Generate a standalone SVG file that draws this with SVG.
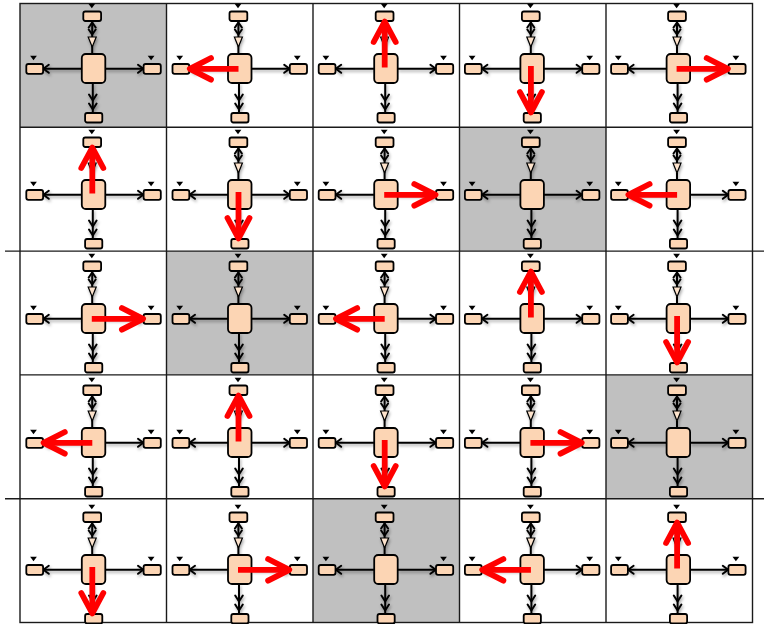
<svg xmlns="http://www.w3.org/2000/svg" xmlns:xlink="http://www.w3.org/1999/xlink" width="764" height="624" viewBox="0 0 764 624">
<style>
.bg{fill:#ffffff}
.gray{fill:#c0c0c0}
.grid{stroke:#1a1a1a;stroke-width:1.4;fill:none}
.box{fill:#fcd5b4;stroke:#000;stroke-width:1.8}
.mk{fill:#000}
.ln{stroke:#000;stroke-width:2;fill:none}
.hd{stroke:#000;stroke-width:2;fill:none;stroke-linejoin:miter;stroke-linecap:round}
.tri{fill:#fde3cc;stroke:#000;stroke-width:1.2}
.red{stroke:#ff0000;stroke-width:5.8;fill:none}
.redh{stroke:#ff0000;stroke-width:5.8;fill:none;stroke-linejoin:round;stroke-linecap:round}
</style>
<defs>
<filter id="sh" x="-10%" y="-10%" width="120%" height="120%">
<feDropShadow dx="1" dy="2" stdDeviation="1.4" flood-color="#000" flood-opacity="0.35"/>
</filter>
<g id="links">
<line class="ln" x1="0" y1="14.8" x2="-38.7" y2="14.8"/>
<path class="hd" d="M-33 10.8 L-38.4 14.8 L-33 18.8"/>
<line class="ln" x1="23.5" y1="14.8" x2="61.8" y2="14.8"/>
<path class="hd" d="M56.2 10.8 L61.5 14.8 L56.2 18.8"/>
<line class="ln" x1="11" y1="29" x2="11" y2="59"/>
<path class="hd" d="M7.2 40.5 L11 46.5 L14.8 40.5"/>
<path class="hd" d="M7.2 49.5 L11 55.5 L14.8 49.5"/>
<line class="ln" x1="10.4" y1="-33" x2="10.4" y2="0"/>
<path class="hd" d="M6.9 -26.5 L10.4 -31.5 L13.9 -26.5"/>
<path class="hd" d="M6.9 -24.5 L10.4 -19.5 L13.9 -24.5"/>
<polygon class="tri" points="6.4,-17 14.4,-17 10.4,-7"/>
</g>
<g id="unit">
<rect class="box" x="0" y="0" width="23.5" height="29" rx="4"/>
<rect class="box" x="1.5" y="-42.5" width="17.8" height="9.5" rx="2"/>
<rect class="box" x="3.3" y="59" width="17.2" height="9.5" rx="2"/>
<rect class="box" x="-55.5" y="10" width="16.8" height="9.8" rx="2"/>
<rect class="box" x="61.8" y="10" width="17.2" height="9.8" rx="2"/>
<polygon class="mk" points="6.6,-50.2 13.4,-50.2 10,-45.8"/>
<polygon class="mk" points="-51.7,1.8 -44.9,1.8 -48.3,6.2"/>
<polygon class="mk" points="65.9,1.8 72.7,1.8 69.3,6.2"/>
</g>
<g id="rL"><line class="red" x1="10.5" y1="14.8" x2="-36" y2="14.8"/><path class="redh" d="M-17 4 L-38.2 14.8 L-17 25.6"/></g>
<g id="rR"><line class="red" x1="10" y1="14.8" x2="59" y2="14.8"/><path class="redh" d="M40.1 4 L61.3 14.8 L40.1 25.6"/></g>
<g id="rU"><line class="red" x1="10.5" y1="13.5" x2="10.5" y2="-30.5"/><path class="redh" d="M-0.5 -12 L10.5 -32.5 L21.5 -12"/></g>
<g id="rD"><line class="red" x1="10.5" y1="12" x2="10.5" y2="56"/><path class="redh" d="M-0.5 38 L10.5 58.5 L21.5 38"/></g>
</defs>
<rect class="bg" x="0" y="0" width="764" height="624"/>
<g id="shaded-cells">
<rect class="gray" x="20" y="3.5" width="146.5" height="123.8"/>
<rect class="gray" x="459.5" y="127.3" width="146.5" height="123.8"/>
<rect class="gray" x="166.5" y="251.1" width="146.5" height="123.8"/>
<rect class="gray" x="606" y="374.9" width="146.5" height="123.8"/>
<rect class="gray" x="313" y="498.7" width="146.5" height="123.8"/>
</g>
<g id="grid">
<rect class="grid" x="20" y="3.5" width="732.5" height="619"/>
<line class="grid" x1="166.5" y1="3.5" x2="166.5" y2="622.5"/>
<line class="grid" x1="313" y1="3.5" x2="313" y2="622.5"/>
<line class="grid" x1="459.5" y1="3.5" x2="459.5" y2="622.5"/>
<line class="grid" x1="606" y1="3.5" x2="606" y2="622.5"/>
<line class="grid" x1="20" y1="127.3" x2="752.5" y2="127.3"/>
<line class="grid" x1="5" y1="251.1" x2="764" y2="251.1"/>
<line class="grid" x1="20" y1="374.9" x2="752.5" y2="374.9"/>
<line class="grid" x1="5" y1="498.7" x2="764" y2="498.7"/>
</g>
<g id="connectors" filter="url(#sh)">
<use href="#links" transform="translate(81.8,54)"/>
<use href="#links" transform="translate(228,54)"/>
<use href="#links" transform="translate(374.2,54)"/>
<use href="#links" transform="translate(520.4,54)"/>
<use href="#links" transform="translate(666.6,54)"/>
<use href="#links" transform="translate(81.8,180)"/>
<use href="#links" transform="translate(228,180)"/>
<use href="#links" transform="translate(374.2,180)"/>
<use href="#links" transform="translate(520.4,180)"/>
<use href="#links" transform="translate(666.6,180)"/>
<use href="#links" transform="translate(81.8,304)"/>
<use href="#links" transform="translate(228,304)"/>
<use href="#links" transform="translate(374.2,304)"/>
<use href="#links" transform="translate(520.4,304)"/>
<use href="#links" transform="translate(666.6,304)"/>
<use href="#links" transform="translate(81.8,428)"/>
<use href="#links" transform="translate(228,428)"/>
<use href="#links" transform="translate(374.2,428)"/>
<use href="#links" transform="translate(520.4,428)"/>
<use href="#links" transform="translate(666.6,428)"/>
<use href="#links" transform="translate(81.8,555)"/>
<use href="#links" transform="translate(228,555)"/>
<use href="#links" transform="translate(374.2,555)"/>
<use href="#links" transform="translate(520.4,555)"/>
<use href="#links" transform="translate(666.6,555)"/>
</g>
<g id="cell-0-0" transform="translate(81.8,54)"><use href="#unit"/></g>
<g id="cell-0-1" transform="translate(228,54)"><use href="#unit"/></g>
<g id="cell-0-2" transform="translate(374.2,54)"><use href="#unit"/></g>
<g id="cell-0-3" transform="translate(520.4,54)"><use href="#unit"/></g>
<g id="cell-0-4" transform="translate(666.6,54)"><use href="#unit"/></g>
<g id="cell-1-0" transform="translate(81.8,180)"><use href="#unit"/></g>
<g id="cell-1-1" transform="translate(228,180)"><use href="#unit"/></g>
<g id="cell-1-2" transform="translate(374.2,180)"><use href="#unit"/></g>
<g id="cell-1-3" transform="translate(520.4,180)"><use href="#unit"/></g>
<g id="cell-1-4" transform="translate(666.6,180)"><use href="#unit"/></g>
<g id="cell-2-0" transform="translate(81.8,304)"><use href="#unit"/></g>
<g id="cell-2-1" transform="translate(228,304)"><use href="#unit"/></g>
<g id="cell-2-2" transform="translate(374.2,304)"><use href="#unit"/></g>
<g id="cell-2-3" transform="translate(520.4,304)"><use href="#unit"/></g>
<g id="cell-2-4" transform="translate(666.6,304)"><use href="#unit"/></g>
<g id="cell-3-0" transform="translate(81.8,428)"><use href="#unit"/></g>
<g id="cell-3-1" transform="translate(228,428)"><use href="#unit"/></g>
<g id="cell-3-2" transform="translate(374.2,428)"><use href="#unit"/></g>
<g id="cell-3-3" transform="translate(520.4,428)"><use href="#unit"/></g>
<g id="cell-3-4" transform="translate(666.6,428)"><use href="#unit"/></g>
<g id="cell-4-0" transform="translate(81.8,555)"><use href="#unit"/></g>
<g id="cell-4-1" transform="translate(228,555)"><use href="#unit"/></g>
<g id="cell-4-2" transform="translate(374.2,555)"><use href="#unit"/></g>
<g id="cell-4-3" transform="translate(520.4,555)"><use href="#unit"/></g>
<g id="cell-4-4" transform="translate(666.6,555)"><use href="#unit"/></g>
<g id="highlighted-connectors">
<use href="#rL" transform="translate(228,54)"/>
<use href="#rU" transform="translate(374.2,54)"/>
<use href="#rD" transform="translate(520.4,54)"/>
<use href="#rR" transform="translate(666.6,54)"/>
<use href="#rU" transform="translate(81.8,180)"/>
<use href="#rD" transform="translate(228,180)"/>
<use href="#rR" transform="translate(374.2,180)"/>
<use href="#rL" transform="translate(666.6,180)"/>
<use href="#rR" transform="translate(81.8,304)"/>
<use href="#rL" transform="translate(374.2,304)"/>
<use href="#rU" transform="translate(520.4,304)"/>
<use href="#rD" transform="translate(666.6,304)"/>
<use href="#rL" transform="translate(81.8,428)"/>
<use href="#rU" transform="translate(228,428)"/>
<use href="#rD" transform="translate(374.2,428)"/>
<use href="#rR" transform="translate(520.4,428)"/>
<use href="#rD" transform="translate(81.8,555)"/>
<use href="#rR" transform="translate(228,555)"/>
<use href="#rL" transform="translate(520.4,555)"/>
<use href="#rU" transform="translate(666.6,555)"/>
</g>
</svg>
